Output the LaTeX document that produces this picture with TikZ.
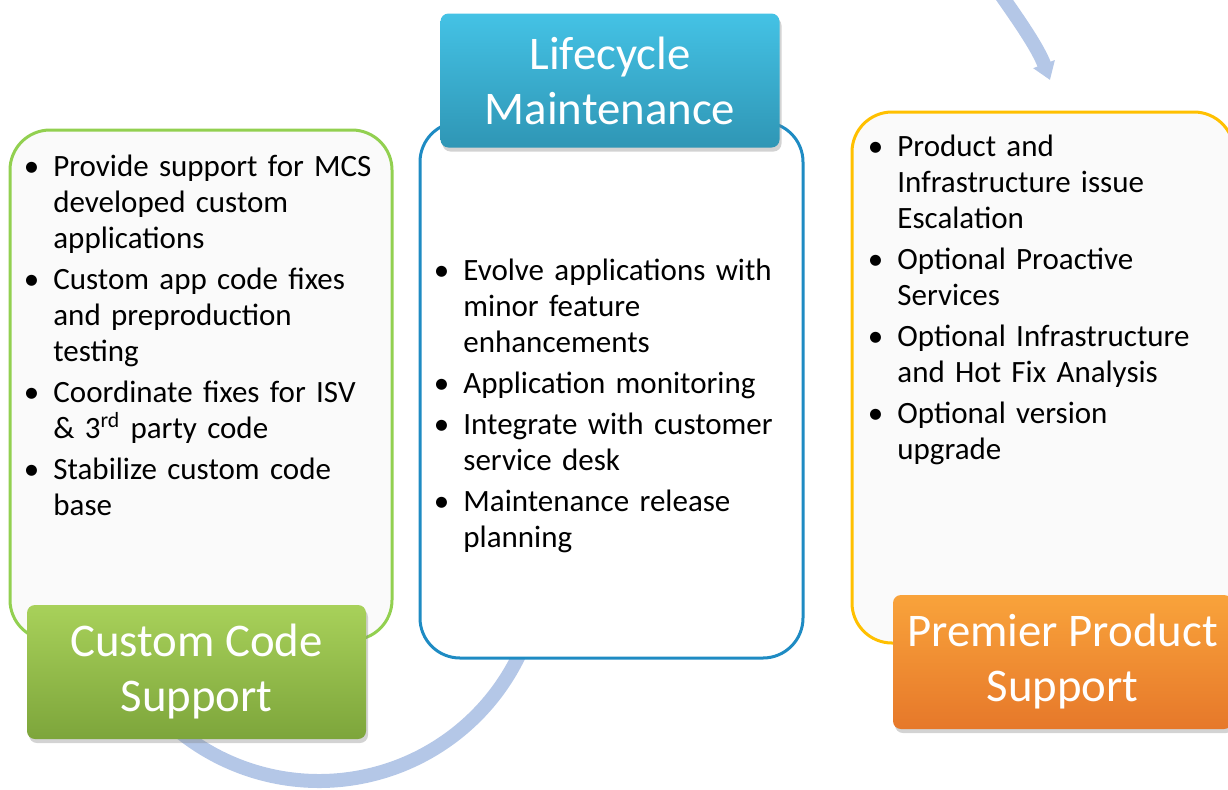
\documentclass[tikz,border=0pt]{standalone}
\usepackage{fontspec}
\setmainfont{Carlito}
\usepackage{enumitem}
\usetikzlibrary{shadows,arrows.meta}
\setlist[itemize]{label=\textbullet, leftmargin=12pt, labelsep=7pt, itemsep=2.5pt, topsep=0pt, parsep=0pt, partopsep=0pt}

\definecolor{ccgreen}{HTML}{92D050}
\definecolor{ccgreentop}{HTML}{A8D15A}
\definecolor{ccgreenbot}{HTML}{7DA53B}
\definecolor{lmblue}{HTML}{1E8BC3}
\definecolor{lmbluetop}{HTML}{44C2E5}
\definecolor{lmbluebot}{HTML}{2F96B5}
\definecolor{ppyellow}{HTML}{FFC000}
\definecolor{pporangetop}{HTML}{F9A33B}
\definecolor{pporangebot}{HTML}{E6782A}
\definecolor{arcblue}{HTML}{B4C7E7}
\definecolor{panelgray}{HTML}{FAFAFA}

\begin{document}
\begin{tikzpicture}[x=0.5pt, y=-0.5pt,
    panel/.style={draw, line width=1.5pt, rounded corners=20pt, fill=panelgray,
      minimum width=191pt, inner sep=0pt},
    titlebox/.style={rounded corners=4pt, minimum width=169.5pt, minimum height=67pt,
      text=white, align=center, font=\fontsize{23.4}{27.5}\selectfont,
      drop shadow={shadow xshift=1pt, shadow yshift=-2pt, opacity=0.35}},
    items/.style={anchor=north west, inner sep=0pt, text width=185pt, align=left,
      font=\fontsize{15.5}{18}\selectfont},
    cyclearc/.style={line width=7pt, draw=arcblue}]
  \useasboundingbox (0,0) rectangle (1228,789);

  % cycle arcs behind the boxes
  \coordinate (cyc) at (319,559);
  \draw[cyclearc] (cyc) ++(-20:111pt) arc[start angle=-20, end angle=-130, radius=111pt];
  \coordinate (topin) at (999,-8);
  \coordinate (toptip) at (1050,80);
  \draw[cyclearc, -{Triangle[width=11pt, length=8.5pt]}]
    (topin) .. controls (1020,22) and (1038,48) .. (toptip);

  % panels
  \node[panel, draw=ccgreen, minimum height=255pt] (ccpanel) at (201,385) {};
  \node[panel, draw=lmblue, fill=white, minimum width=191.5pt, minimum height=268pt] (lmpanel) at (611.5,390) {};
  \node[panel, draw=ppyellow, minimum height=265.5pt] (pppanel) at (1043,377.5) {};

  % items
  \node[items] (ccitems) at (29,140) {%
    \begin{itemize}
      \item Provide support for MCS\\developed custom\\applications
      \item Custom app code fixes\\and preproduction\\testing
      \item Coordinate fixes for ISV\\\& 3\textsuperscript{rd} party code
      \item Stabilize custom code\\base
    \end{itemize}};
  \node[items] (lmitems) at (439,244) {%
    \begin{itemize}
      \item Evolve applications with\\minor feature\\enhancements
      \item Application monitoring
      \item Integrate with customer\\service desk
      \item Maintenance release\\planning
    \end{itemize}};
  \node[items, text width=177pt] (ppitems) at (873,120) {%
    \begin{itemize}
      \item Product and\\Infrastructure issue\\Escalation
      \item Optional Proactive\\Services
      \item Optional Infrastructure\\and Hot Fix Analysis
      \item Optional version\\upgrade
    \end{itemize}};

  % titles
  \node[titlebox, top color=ccgreentop, bottom color=ccgreenbot] (cctitle) at (196.5,672) {Custom Code\\Support};
  \node[titlebox, top color=lmbluetop, bottom color=lmbluebot] (lmtitle) at (610,80.5) {Lifecycle\\Maintenance};
  \node[titlebox, top color=pporangetop, bottom color=pporangebot] (pptitle) at (1062.5,662) {Premier Product\\Support};
\end{tikzpicture}
\end{document}
